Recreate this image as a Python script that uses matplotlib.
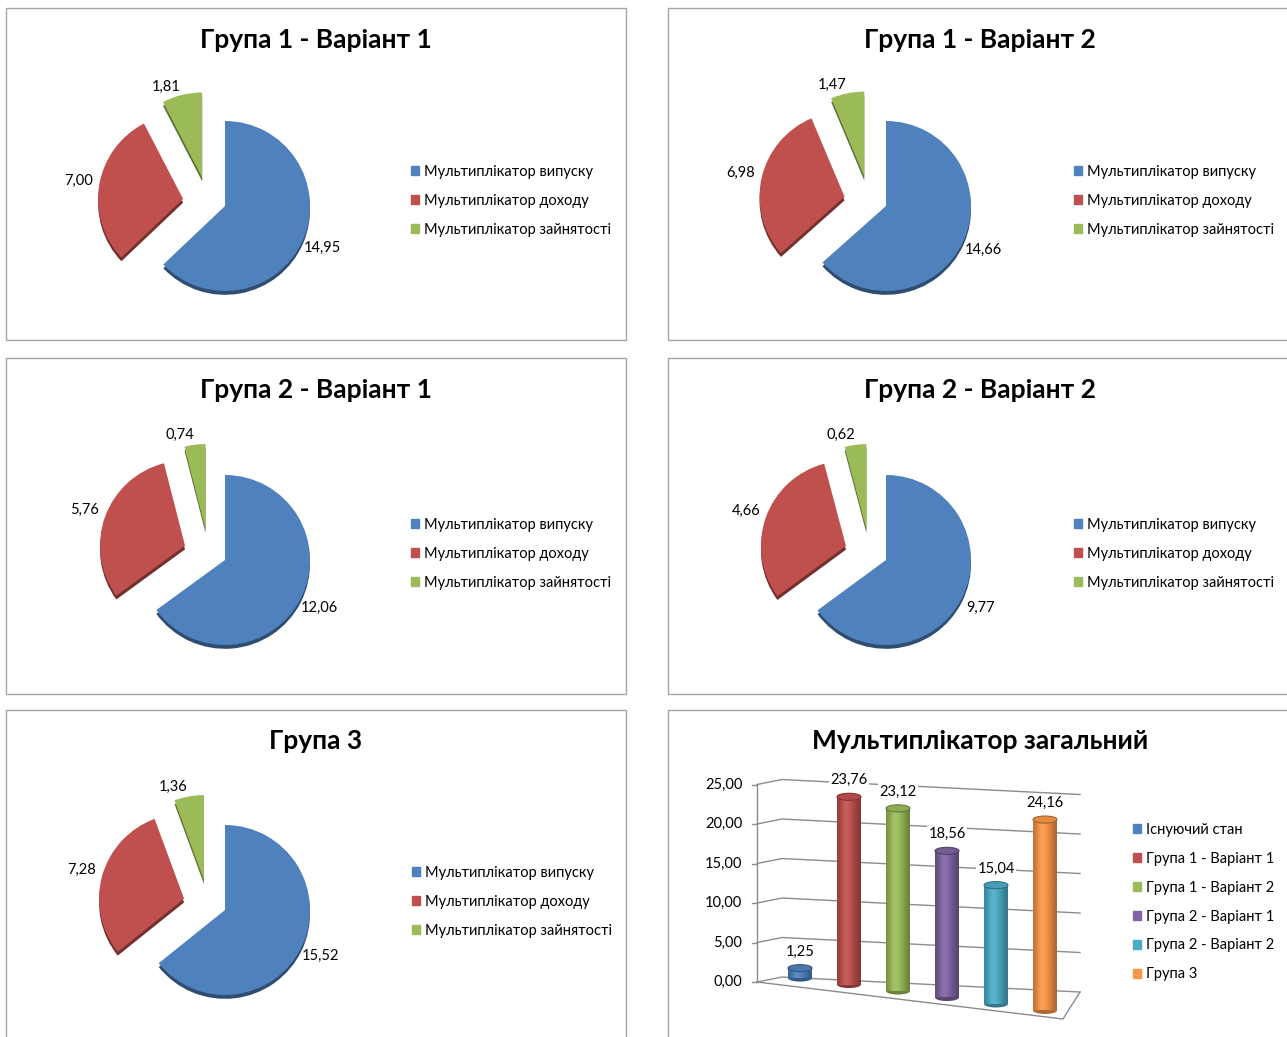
import matplotlib
matplotlib.use("Agg")
import matplotlib.pyplot as plt
from matplotlib.patches import Rectangle, Ellipse, Patch
from matplotlib.colors import to_rgb
import numpy as np

plt.rcParams["font.family"] = ["Lato", "DejaVu Sans"]

W, H = 1287, 1037

pie_titles = ["Група 1 - Варіант 1", "Група 1 - Варіант 2",
              "Група 2 - Варіант 1", "Група 2 - Варіант 2", "Група 3"]
mult_labels = ["Мультиплікатор випуску", "Мультиплікатор доходу",
               "Мультиплікатор зайнятості"]
output_mult = [14.95, 14.66, 12.06, 9.77, 15.52]
income_mult = [7.00, 6.98, 5.76, 4.66, 7.28]
employ_mult = [1.81, 1.47, 0.74, 0.62, 1.36]

total_title = "Мультиплікатор загальний"
total_cats = ["Існуючий стан", "Група 1 - Варіант 1", "Група 1 - Варіант 2",
              "Група 2 - Варіант 1", "Група 2 - Варіант 2", "Група 3"]
total_vals = [1.25, 23.76, 23.12, 18.56, 15.04, 24.16]
total_ticks = [0, 5, 10, 15, 20, 25]

pie_colors = ["#4F81BD", "#C0504D", "#9BBB59"]
bar_colors = ["#4F81BD", "#C0504D", "#9BBB59", "#8064A2", "#4BACC6", "#F79646"]

# layout in pixels
panels = [(6, 8, 626, 340), (668, 8, 1292, 340),
          (6, 358, 626, 694), (668, 358, 1292, 694),
          (6, 710, 626, 1045), (668, 710, 1292, 1045)]
title_y = [40, 40, 390, 390, 741, 741]
pie_centers = [(225, 206), (886, 206), (225, 560), (886, 560), (225, 910)]
legend_pos = [(411, 165), (1074, 165), (411, 518), (1074, 518), (412, 866)]
R = 85
LEG = dict(loc="upper left", frameon=False, fontsize=10.5, handlelength=0.55,
           handleheight=0.55, handletextpad=0.35, labelspacing=1.02,
           borderpad=0, borderaxespad=0)


def fx(x):
    return x / W


def fy(y):
    return 1 - y / H


def fmt(v):
    return f"{v:.2f}".replace(".", ",")


def shade(c, k):
    r, g, b = to_rgb(c)
    if k <= 1:
        return (r * k, g * k, b * k)
    return tuple(v + (1 - v) * (k - 1) for v in (r, g, b))


fig = plt.figure(figsize=(W / 100, H / 100), dpi=100)

for (x0, y0, x1, y1) in panels:
    fig.add_artist(Rectangle((fx(x0), fy(y1)), (x1 - x0) / W, (y1 - y0) / H,
                             transform=fig.transFigure, fill=False,
                             edgecolor="#a6a6a6", lw=1))

titles = pie_titles + [total_title]
for (x0, y0, x1, y1), ty, t in zip(panels, title_y, titles):
    fig.text(fx((x0 + x1) / 2), fy(ty), t, ha="center", va="center",
             fontsize=19, fontweight="bold")

# pies
for k in range(5):
    cx, cy = pie_centers[k]
    hw, hh = 170, 145
    ax = fig.add_axes([fx(cx - hw), fy(cy + hh), 2 * hw / W, 2 * hh / H])
    vals = [output_mult[k], income_mult[k], employ_mult[k]]
    explode = [0, 0.5, 0.4]
    sh_w, _ = ax.pie(vals, colors=[shade(c, 0.6) for c in pie_colors],
                     startangle=90, counterclock=False, explode=explode,
                     center=(0, -0.045), wedgeprops={"linewidth": 0})
    wedges, texts = ax.pie(vals, colors=pie_colors, startangle=90,
                           counterclock=False, explode=explode,
                           labels=[fmt(v) for v in vals], labeldistance=1.25,
                           wedgeprops={"linewidth": 0},
                           textprops={"ha": "center", "va": "center",
                                      "fontsize": 10.5})
    # the small slice is pulled out up-left, as in the 3D original
    g = wedges[2]
    mid = (g.theta1 + g.theta2) / 2
    a = np.deg2rad(mid + 25)
    dx, dy = 0.43 * np.cos(a), 0.43 * np.sin(a)
    g.set_center((dx, dy))
    sh_w[2].set_center((dx, dy - 0.045))
    b = np.deg2rad(mid + 8)
    texts[2].set_position((dx + 1.15 * np.cos(b), dy + 1.15 * np.sin(b)))

    ax.set_aspect("auto")
    ax.set_xlim(-hw / R, hw / R)
    ax.set_ylim(-hh / R, hh / R)
    ax.axis("off")

    lx, ly = legend_pos[k]
    handles = [Patch(color=c) for c in pie_colors]
    fig.legend(handles, mult_labels, bbox_to_anchor=(fx(lx), fy(ly)), **LEG)

# 3D-like cylinder chart
bx0, bx1, by0, by1 = 695, 1110, 760, 1037
PX, PY = 49.0, 7.9
X0, Y0 = 800, 982
ax = fig.add_axes([fx(bx0), fy(by1), (bx1 - bx0) / W, (by1 - by0) / H])

xf = (757 - X0) / PX
xb = (782 - X0) / PX
xr = (1080 - X0) / PX
rise = 0.63
drop = 15 / PY
grid_c = "#8c8c8c"

for t in total_ticks:
    ax.plot([xf, xb, xr], [t, t + rise, t + rise - drop], color=grid_c,
            lw=1, zorder=1)
    ax.plot([xf - 0.1, xf], [t, t], color=grid_c, lw=1, zorder=1)
    ax.text(xf - 0.3, t, fmt(t), ha="right", va="center", fontsize=10.5)
ax.plot([xf, xf], [total_ticks[0], total_ticks[-1]], color=grid_c, lw=1,
        zorder=1)
xfr = (1063 - X0) / PX
ax.plot([xf, xfr, xr], [0, -37 / PY, rise - drop], color=grid_c, lw=1,
        zorder=1)

bw = 24 / PX
eh = 0.9
for i, (v, c) in enumerate(zip(total_vals, bar_colors)):
    b = 0.5 - 0.82 * i
    ax.add_patch(Ellipse((i, b), bw, eh, facecolor=shade(c, 0.7),
                         edgecolor="none", zorder=3))
    prof = np.array([0.78, 0.92, 1.08, 1.1, 1.0, 0.9, 0.8, 0.7])
    grad = np.array([[shade(c, p) for p in prof]])
    ax.imshow(grad, extent=(i - bw / 2, i + bw / 2, b, b + v), aspect="auto",
              interpolation="bicubic", zorder=4)
    ax.add_patch(Ellipse((i, b + v), bw, eh, facecolor=shade(c, 0.92),
                         edgecolor=shade(c, 0.65), lw=0.8, zorder=5))
    ax.text(i, b + v + 2.1, fmt(v), ha="center", va="center", fontsize=10.5,
            zorder=6, bbox=dict(facecolor="white", edgecolor="none", pad=1))

ax.set_aspect("auto")
ax.set_xlim((bx0 - X0) / PX, (bx1 - X0) / PX)
ax.set_ylim((Y0 - by1) / PY, (Y0 - by0) / PY)
ax.axis("off")

handles = [Patch(color=c) for c in bar_colors]
fig.legend(handles, total_cats, bbox_to_anchor=(fx(1133), fy(823)), **LEG)

fig.savefig("out.png", dpi=100)
